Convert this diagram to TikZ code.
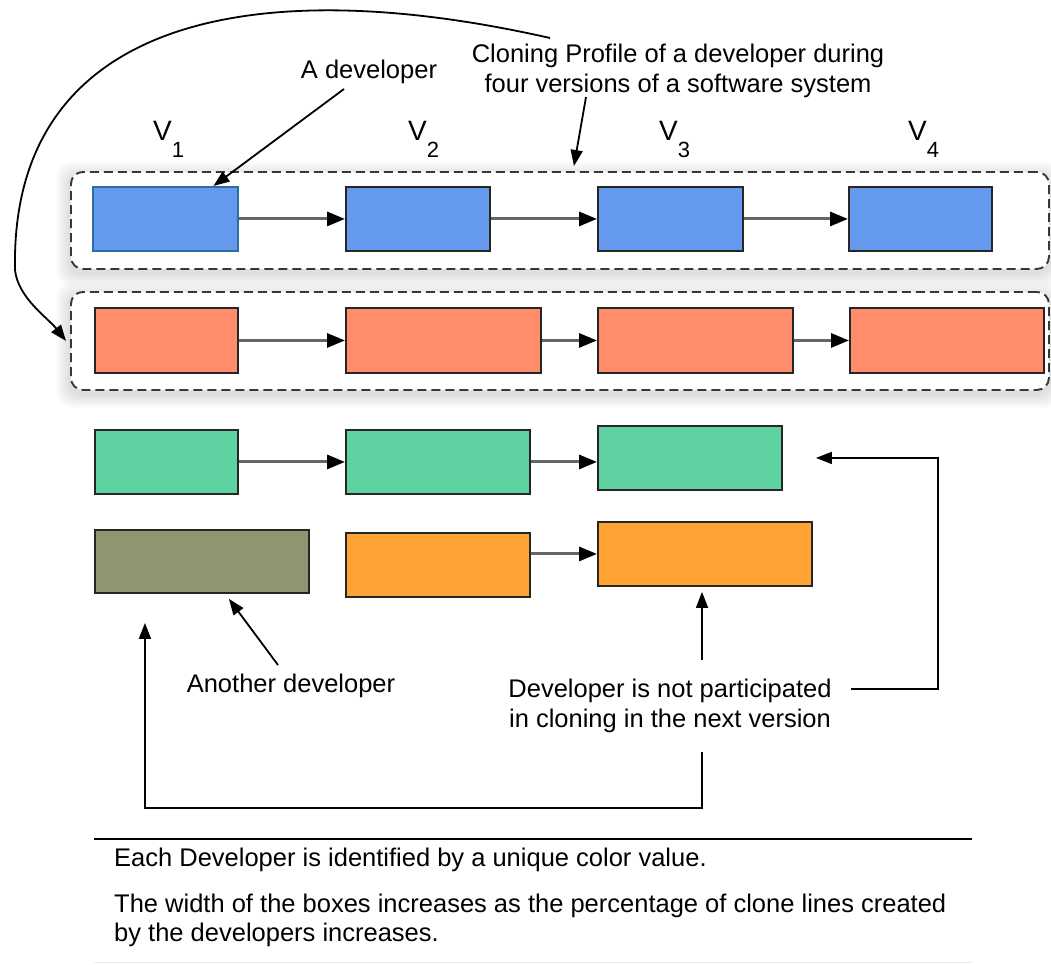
\documentclass[tikz,border=0pt]{standalone}
\usepackage{fontspec}
\setmainfont{Liberation Sans}
\usetikzlibrary{arrows.meta,backgrounds}

\definecolor{devblue}{RGB}{100,153,237}
\definecolor{devblueedge}{RGB}{45,110,160}
\definecolor{devred}{RGB}{255,140,106}
\definecolor{devgreen}{RGB}{93,210,160}
\definecolor{devolive}{RGB}{145,148,112}
\definecolor{devorange}{RGB}{254,163,52}

\begin{document}
\begin{tikzpicture}[x=1pt,y=-1pt,
  devbox/.style={draw=black!85, line width=1.9pt, inner sep=0pt, anchor=north west},
  profile/.style={draw=black!78, line width=1.9pt, dash pattern=on 9pt off 5pt,
                  rounded corners=12pt, fill=white, inner sep=0pt, anchor=north west},
  flow/.style={draw=black!60, line width=3pt, -{Triangle[length=18pt,width=14pt,color=black]}},
  callout/.style={draw=black, line width=1.8pt, -{Triangle[length=16pt,width=12pt]}},
  lbl/.style={font=\fontsize{25.5}{30}\selectfont, inner sep=0pt},
  vlabel/.style={font=\fontsize{28}{28}\selectfont, inner sep=0pt, anchor=base west}]
\useasboundingbox (0,0) rectangle (1051,964);

% dashed frames grouping one developer's profile
\node[profile, minimum width=978pt, minimum height=97pt] (prof1) at (70,171) {};
\node[profile, minimum width=978pt, minimum height=98pt] (prof2) at (70,291) {};

% soft halo behind the frames
\begin{pgfonlayer}{background}
  \fill[white] (0,0) rectangle (1051,964);
  \foreach \k in {1,...,8}{
    \fill[black, opacity=0.014, rounded corners=14pt]
      ({70-1.7*\k},{171-1.7*\k+5}) rectangle ({1048+1.7*\k},{268+1.7*\k+5});
    \fill[black, opacity=0.014, rounded corners=14pt]
      ({70-1.7*\k},{291-1.7*\k+5}) rectangle ({1048+1.7*\k},{389+1.7*\k+5});
  }
\end{pgfonlayer}

% version headings
\node[vlabel] (v1) at (153,140) {V\raisebox{-17pt}{\fontsize{22}{22}\selectfont 1}};
\node[vlabel] (v2) at (408,140) {V\raisebox{-17pt}{\fontsize{22}{22}\selectfont 2}};
\node[vlabel] (v3) at (659,140) {V\raisebox{-17pt}{\fontsize{22}{22}\selectfont 3}};
\node[vlabel] (v4) at (908,140) {V\raisebox{-17pt}{\fontsize{22}{22}\selectfont 4}};

% developer boxes, one row per developer
\node[devbox, fill=devblue, draw=devblueedge, minimum width=145pt, minimum height=64pt] (b1) at (92,186) {};
\node[devbox, fill=devblue, minimum width=144pt, minimum height=64pt] (b2) at (345,186) {};
\node[devbox, fill=devblue, minimum width=145pt, minimum height=64pt] (b3) at (597,186) {};
\node[devbox, fill=devblue, minimum width=143pt, minimum height=64pt] (b4) at (848,186) {};

\node[devbox, fill=devred, minimum width=143pt, minimum height=65pt] (r1) at (94,307) {};
\node[devbox, fill=devred, minimum width=195pt, minimum height=65pt] (r2) at (345,307) {};
\node[devbox, fill=devred, minimum width=195pt, minimum height=65pt] (r3) at (597,307) {};
\node[devbox, fill=devred, minimum width=194pt, minimum height=65pt] (r4) at (849,307) {};

\node[devbox, fill=devgreen, minimum width=143pt, minimum height=64pt] (g1) at (94,429) {};
\node[devbox, fill=devgreen, minimum width=184pt, minimum height=64pt] (g2) at (345,429) {};
\node[devbox, fill=devgreen, minimum width=184pt, minimum height=64pt] (g3) at (597,425) {};

\node[devbox, fill=devolive, minimum width=214pt, minimum height=63pt] (ol) at (94,529) {};
\node[devbox, fill=devorange, minimum width=184pt, minimum height=64pt] (or1) at (345,532) {};
\node[devbox, fill=devorange, minimum width=214pt, minimum height=64pt] (or2) at (597,521) {};

% version-to-version transitions
\draw[flow] (b1) -- (b2);
\draw[flow] (b2) -- (b3);
\draw[flow] (b3) -- (b4);
\draw[flow] (r1) -- (r2);
\draw[flow] (r2) -- (r3);
\draw[flow] (r3) -- (r4);
\draw[flow] (g1) -- (g2);
\draw[flow] (g2.east) -- (g2.east -| g3.west);
\draw[flow] (or1.east |- or2.west) -- (or2.west);

% annotations
\node[lbl, anchor=base] (adev) at (369,78) {A developer};
\node[lbl, align=center] (clone) at (678,71) {Cloning Profile of a developer during\\four versions of a software system};
\node[lbl, anchor=base] (another) at (291,692) {Another developer};
\node[lbl, align=center] (notpart) at (670,706) {Developer is not participated\\in cloning in the next version};

\coordinate (adevtail) at (344,89);
\coordinate (clonetail) at (586,97);
\coordinate (curvestart) at (550,38);
\coordinate (anothertail) at (278,665);
\coordinate (nptop) at (702,660);
\coordinate (npbottom) at (702,752);
\coordinate (npright) at (851,689);

\draw[callout] (adevtail) -- ([xshift=48pt]b1.north);
\draw[callout] (clonetail) -- ([xshift=14pt,yshift=5pt]prof1.north);
\draw[callout] (curvestart) .. controls (250,-30) and (10,20) .. (15,270)
               .. controls (18,298) and (48,318) .. ([xshift=-4pt]prof2.west);
\draw[callout] (anothertail) -- ([xshift=27pt,yshift=-5pt]ol.south);
\draw[callout] (nptop) -- ([yshift=-5pt]nptop |- or2.south);
\draw[callout] (npbottom) -- ++(0,56) -| ([xshift=-57pt,yshift=-29pt]ol.south);
\draw[callout] (npright) -- ++(87,0) |- ([xshift=33pt]g3.east);

% legend
\draw[line width=2.4pt] (94,839) -- (972,839);
\node[lbl, anchor=base west] (note1) at (114,866) {Each Developer is identified by a unique color value.};
\node[lbl, anchor=base west] (note2) at (114,912) {The width of the boxes increases as the percentage of clone lines created};
\node[lbl, anchor=base west] (note3) at (114,941) {by the developers increases.};
\draw[black!8, line width=1pt] (94,962) -- (972,962);
\end{tikzpicture}
\end{document}
